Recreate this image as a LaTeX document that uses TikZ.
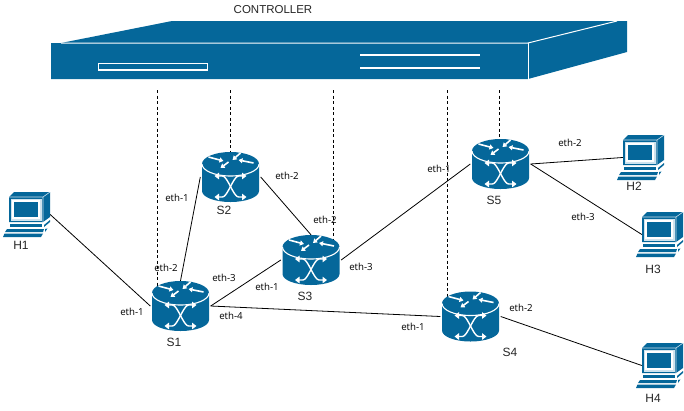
\documentclass[tikz,border=0pt]{standalone}
\usepackage{fontspec}
\setmainfont{Liberation Sans}
\newfontfamily\ethfont{Open Sans}
\usetikzlibrary{arrows.meta}
\definecolor{devblue}{HTML}{05679A}
\definecolor{devlight}{HTML}{CFE3EE}
\tikzset{
  wire/.style={draw=black,line width=0.8pt},
  ctrl/.style={draw=black,line width=0.8pt,dash pattern=on 3pt off 2.5pt},
  routerbox/.style={inner sep=0pt,minimum width=60pt,minimum height=50pt},
  hostbox/.style={inner sep=0pt,minimum width=41pt,minimum height=45pt},
  ethlbl/.style={font=\ethfont\fontsize{9.7}{11}\selectfont,inner sep=0pt,text=black},
  devlbl/.style={font=\fontsize{12}{14}\selectfont,inner sep=0pt,text=black!85},
  whitearrow/.style={draw=white,line width=1.6pt,-{Triangle[length=4pt,width=5pt]}},
  xarrow/.style={draw=white,line width=1.4pt,{Triangle[length=4.5pt,width=6.5pt]}-{Triangle[length=4.5pt,width=6.5pt]}},
  routerpic/.pic={
    \fill[devblue] (-28.5,-13) -- (-28.5,14) arc[start angle=180,end angle=0,x radius=28.5,y radius=11]
      -- (28.5,-13) arc[start angle=0,end angle=-180,x radius=28.5,y radius=12] -- cycle;
    \draw[white,line width=1.1pt] (-28.5,-13) arc[start angle=180,end angle=0,x radius=28.5,y radius=12];
    \draw[whitearrow] (-22,-20) -- (-7,-16);
    \draw[whitearrow] (10,-24) -- (2,-17);
    \draw[whitearrow] (23,-14) -- (8,-17);
    \draw[whitearrow] (-2,-15) -- (-10,-9);
    \draw[xarrow] (-16,-1) -- (-8,-1) .. controls (-3,-1) and (3,20) .. (8,20) -- (16,20);
    \draw[xarrow] (16,-1) -- (8,-1) .. controls (3,-1) and (-3,20) .. (-8,20) -- (-16,20);
  },
  hostpic/.pic={
    \fill[devblue] (6,5) -- (11,0) -- (47,0) -- (47,25) -- (40,30) -- (6,30) -- cycle;
    \draw[devlight,line width=0.6pt] (6,5) -- (40,5) -- (47,0) (40,5) -- (40,30);
    \fill[devlight] (7.5,6.5) rectangle (38.5,28.5);
    \fill[white] (9,8) rectangle (37,27);
    \fill[devblue] (11,10) rectangle (35,25);
    \fill[devblue] (7,32) rectangle (39,35);
    \fill[devblue] (41,33) -- (47,28) -- (47,30) -- (41,35) -- cycle;
    \fill[devblue] (4,37) -- (41,37) -- (40,40) -- (2,40) -- cycle;
    \fill[devblue] (1.5,41.5) -- (40,41.5) -- (38,45) -- (0,45) -- cycle;
    \fill[devblue] (42,37) -- (44.5,36.5) -- (42,40) -- cycle;
  }
}
\begin{document}
\begin{tikzpicture}[x=1pt,y=-1pt]
\useasboundingbox (0,0) rectangle (684,410);
% controller
\fill[devblue] (51,43) -- (61,43) -- (172,21) -- (627,21) -- (627,52) -- (528,79) -- (51,79) -- cycle;
\draw[white,line width=1pt] (61,43) -- (528,43) -- (617,21);
\draw[white,line width=1pt] (528,43) -- (528,79);
\draw[white,line width=1.1pt] (98.5,63.5) rectangle (207.5,70);
\draw[white,line width=1.1pt] (360,55) -- (480,55);
\draw[white,line width=1.1pt] (360,68) -- (480,68);
\node[devlbl,font=\fontsize{11.5}{13}\selectfont] (ctl) at (273,9.5) {CONTROLLER};
% switches
\node[routerbox] (s1) at (180.5,306) {};
\node[routerbox] (s2) at (230.5,177) {};
\node[routerbox] (s3) at (311,260) {};
\node[routerbox] (s4) at (470.5,316.5) {};
\node[routerbox] (s5) at (500.5,164) {};
% hosts
\node[hostbox] (h1) at (29.5,214.5) {};
\node[hostbox] (h2) at (643.5,157.5) {};
\node[hostbox] (h3) at (662.5,234.5) {};
\node[hostbox] (h4) at (662.5,365.5) {};
% control channels
\coordinate (c1) at (157,90);
\coordinate (c2) at (230,90);
\coordinate (c3) at (333,90);
\coordinate (c4) at (447,90);
\coordinate (c5) at (499,90);
\draw[ctrl] (c1) -- (c1 |- s1);
\draw[ctrl] (c2) -- (c2 |- s2);
\draw[ctrl] (c3) -- (c3 |- s3);
\draw[ctrl] (c4) -- (c4 |- s4);
\draw[ctrl] (c5) -- (c5 |- s5);
% links
\draw[wire] (h1.east) -- (s1.west);
\draw[wire] (s1.north) -- (s2.west);
\draw[wire] (s2.east) -- (s3.north);
\draw[wire] (s1.east) -- (s3.west);
\draw[wire] (s1.east) -- (s4.west);
\draw[wire] (s3.east) -- (s5.west);
\draw[wire] (s5.east) -- (h2.west);
\draw[wire] (s5.east) -- (h3.west);
\draw[wire] (s4.east) -- (h4.west);
% device drawings
\foreach \n in {s1,s2,s3,s4,s5} \pic at (\n) {routerpic};
\pic at (3,192) {hostpic};
\pic at (617,135) {hostpic};
\pic at (636,212) {hostpic};
\pic at (636,343) {hostpic};
% labels
\node[ethlbl] (l1) at (177,198) {eth-1};
\node[ethlbl] (l2) at (287,176) {eth-2};
\node[ethlbl] (l3) at (325,220) {eth-2};
\node[ethlbl] (l4) at (166,268) {eth-2};
\node[ethlbl] (l5) at (224,278) {eth-3};
\node[ethlbl] (l6) at (267,287) {eth-1};
\node[ethlbl] (l7) at (361,267) {eth-3};
\node[ethlbl] (l8) at (132,312) {eth-1};
\node[ethlbl] (l9) at (231,316) {eth-4};
\node[ethlbl] (l10) at (439,169) {eth-1};
\node[ethlbl] (l11) at (570,143) {eth-2};
\node[ethlbl] (l12) at (583,217) {eth-3};
\node[ethlbl] (l13) at (413,327) {eth-1};
\node[ethlbl] (l14) at (521,308) {eth-2};
\node[devlbl] (t1) at (174,342) {S1};
\node[devlbl] (t2) at (224,210) {S2};
\node[devlbl] (t3) at (305,296) {S3};
\node[devlbl] (t4) at (510,352) {S4};
\node[devlbl] (t5) at (494,200) {S5};
\node[devlbl] (t6) at (21,245) {H1};
\node[devlbl] (t7) at (634,186) {H2};
\node[devlbl] (t8) at (653,269) {H3};
\node[devlbl] (t9) at (653,398) {H4};
\end{tikzpicture}
\end{document}
